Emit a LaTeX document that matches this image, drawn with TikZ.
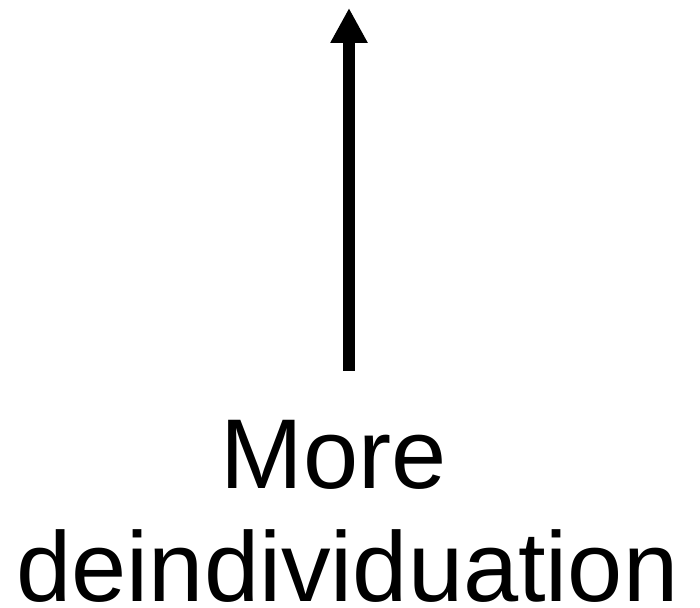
\documentclass[tikz,border=0pt]{standalone}
\usepackage{fontspec}
\setmainfont{Liberation Sans}
\usetikzlibrary{arrows.meta}

\begin{document}
\begin{tikzpicture}[x=1pt,y=1pt]
	\useasboundingbox (0,0) rectangle (350,304);
	% label below the arrow
	\node[align=center,font=\fontsize{49.6}{56.5}\selectfont,inner sep=0pt,anchor=base] (label) at (173.75,3) {More\kern0.28em\\deindividuation};
	% the arrow
	\coordinate (foot) at (174.5,118.5);
	\coordinate (tip) at (174.5,300);
	\draw[line width=6pt,-{Triangle[width=17.5pt,length=17.5pt]}] (foot) -- (tip);
\end{tikzpicture}
\end{document}
